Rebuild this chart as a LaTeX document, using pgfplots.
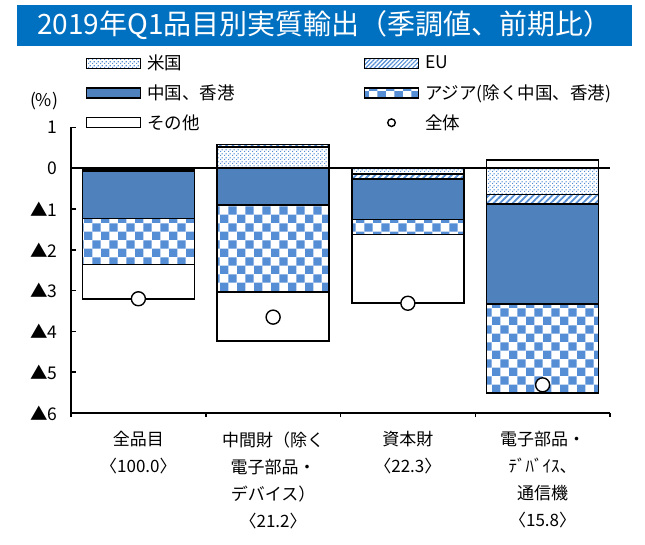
\documentclass[border=0pt]{standalone}
\usepackage{fontspec}
\setmainfont{Noto Sans CJK JP}
\usepackage{pgfplots}
\pgfplotsset{compat=1.18}
\usepackage{pgfplotstable}
\usetikzlibrary{patterns,patterns.meta}

\definecolor{titleblue}{RGB}{0,112,192}
\definecolor{cnblue}{RGB}{79,129,189}
\definecolor{patblue}{RGB}{85,142,213}

\tikzdeclarepattern{
  name=usdots,
  type=uncolored,
  bounding box={(0pt,0pt) and (4pt,4pt)},
  tile size={(4pt,4pt)},
  code={
    \fill (0pt,0pt) rectangle (1.4pt,1.4pt);
    \fill (2pt,2pt) rectangle (3.4pt,3.4pt);
  }
}
\tikzdeclarepattern{
  name=bigcheck,
  type=uncolored,
  bounding box={(0pt,0pt) and (16.8pt,16.8pt)},
  tile size={(16.8pt,16.8pt)},
  code={
    \fill (0pt,0pt) rectangle (8.4pt,8.4pt);
    \fill (8.4pt,8.4pt) rectangle (16.8pt,16.8pt);
  }
}

% segment values (percentage points) per category
\pgfplotstableread{
x us eu cn asia other total
0 -0.03 -0.04 -1.16 -1.13 -0.84 -3.20
1 0.52 0.06 -0.90 -2.14 -1.19 -3.65
2 -0.14 -0.13 -0.99 -0.36 -1.69 -3.31
3 -0.64 -0.24 -2.45 -2.18 0.20 -5.31
}\datatable

\pgfplotsset{
  commonax/.style={scale only axis, width=539pt, height=285.6pt,
    xmin=-0.5, xmax=3.5, ymin=-6, ymax=1},
  rectlegend/.style={legend image code/.code={\draw[##1] (0pt,-5pt) rectangle (54pt,5pt);}},
  marklegend/.style={legend image code/.code={\draw[##1, mark size=3.8pt] plot coordinates {(27pt,0pt)};}},
  usst/.style={draw=black, line width=1.6pt, pattern=usdots, pattern color=patblue},
  eust/.style={draw=black, line width=1.6pt, pattern={Lines[angle=45,distance=4.5pt,line width=1.8pt]}, pattern color=patblue},
  cnst/.style={draw=black, line width=1.6pt, fill=cnblue},
  asst/.style={draw=black, line width=1.6pt, pattern=bigcheck, pattern color=patblue},
  otst/.style={draw=black, line width=1.6pt, fill=white},
}

\begin{document}
\begin{tikzpicture}
\begin{axis}[commonax,
  ybar stacked, bar width=112pt,
  axis x line*=bottom, axis y line*=left,
  axis line style={line width=2.2pt},
  ytick={-6,-5,-4,-3,-2,-1,0,1},
  yticklabels={▲6,▲5,▲4,▲3,▲2,▲1,0,1},
  xtick={0,1,2,3},
  xticklabels={{全品目\\〈100.0〉},{中間財（除く\\電子部品・\\デバイス）\\〈21.2〉},{資本財\\〈22.3〉},{電子部品・\\ﾃﾞﾊﾞｲｽ、\\通信機\\〈15.8〉}},
  tick align=inside, major tick length=5pt,
  tick style={line width=1.5pt, black},
  xtick style={draw=none},
  extra x ticks={-0.5,0.5,1.5,2.5,3.5}, extra x tick labels={},
  extra x tick style={tick align=outside, major tick length=4pt, xtick style={draw=black}},
  yticklabel style={font=\fontsize{17.5}{20}\selectfont, xshift=-10pt},
  xticklabel style={font=\fontsize{17}{27}\selectfont, align=center, yshift=-15pt},
]
% negative parts, stacked downward from 0
\addplot[usst] table[x=x, y expr={min(\thisrow{us},0)}] {\datatable};
\addplot[eust] table[x=x, y expr={min(\thisrow{eu},0)}] {\datatable};
\addplot[cnst] table[x=x, y expr={min(\thisrow{cn},0)}] {\datatable};
\addplot[asst] table[x=x, y expr={min(\thisrow{asia},0)}] {\datatable};
\addplot[otst] table[x=x, y expr={min(\thisrow{other},0)}] {\datatable};
% positive parts, stacked upward from 0
\addplot[usst] table[x=x, y expr={max(\thisrow{us},0)}] {\datatable};
\addplot[eust] table[x=x, y expr={max(\thisrow{eu},0)}] {\datatable};
\addplot[otst] table[x=x, y expr={max(\thisrow{other},0)}] {\datatable};
\draw[line width=2.2pt] (axis cs:-0.5,0) -- (axis cs:3.5,0);
\end{axis}
\begin{axis}[commonax, axis lines=none,
  legend columns=2,
  legend style={at={(axis description cs:0.0223,1.264)}, anchor=north west,
    draw=none, fill=none, font=\fontsize{17.5}{20}\selectfont,
    row sep=11.5pt,
    nodes={inner xsep=0pt, inner ysep=1pt},
    /tikz/every odd column/.append style={column sep=6pt},
    /tikz/every even column/.append style={column sep=129pt}},
  legend cell align=left,
]
\addlegendimage{rectlegend, usst, line width=1.2pt}
\addlegendentry{米国}
\addlegendimage{rectlegend, eust, line width=1.2pt, pattern={Lines[angle=45,distance=3pt,line width=1.2pt]}}
\addlegendentry{EU}
\addlegendimage{rectlegend, cnst, line width=1.2pt}
\addlegendentry{中国、香港}
\addlegendimage{rectlegend, asst, line width=1.2pt}
\addlegendentry{アジア(除く中国、香港)}
\addlegendimage{rectlegend, otst, line width=1.2pt}
\addlegendentry{その他}
\addplot[marklegend, only marks, mark=*, mark size=7pt,
  mark options={fill=white, draw=black, line width=1.4pt}]
  table[x=x, y=total] {\datatable};
\addlegendentry{全体}
\end{axis}
\node[font=\fontsize{17.5}{20}\selectfont] at (-27pt,312pt) {(\%)};
\node[fill=titleblue, text=white, minimum width=615pt, minimum height=41pt, inner sep=0pt,
  font=\fontsize{28}{32}\selectfont] at (253.5pt,387.5pt) {2019年Q1品目別実質輸出（季調値、前期比）};
\pgfresetboundingbox
\path (-71pt,-131pt) rectangle (574pt,413pt);
\end{tikzpicture}
\end{document}
